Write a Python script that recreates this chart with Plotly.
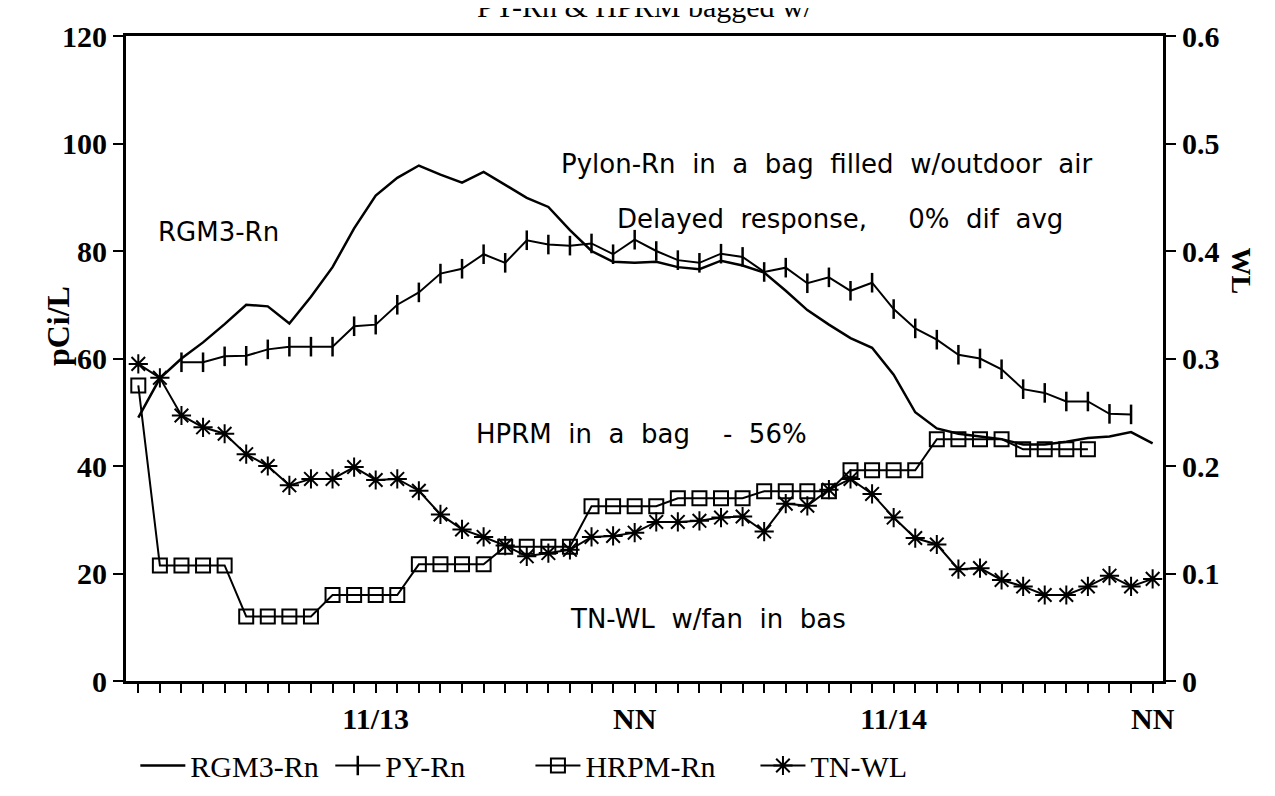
import plotly.graph_objects as go

# hours relative to 11/13 00:00
RGM3_HOURS = list(range(-11, 37))
RGM3_RN = [49, 56.3, 60, 63, 66.4, 70, 69.7, 66.5, 71.5, 77, 84.2,
           90.3, 93.6, 95.9, 94.2, 92.7, 94.7, 92.3, 89.9, 88.2, 83.9, 80,
           78, 77.8, 78, 77, 76.6, 78.2, 77.3, 76, 72.6, 69, 66.3, 63.8, 62, 57,
           50, 47, 46, 45.5, 45, 44, 44, 44.5, 45.2, 45.5, 46.3, 44.2]

PY_HOURS = list(range(-9, 36))
PY_RN = [59.3, 59.3, 60.4, 60.5, 61.7, 62.2, 62.2, 62.2, 66,
         66.3, 70, 72.3, 75.8, 76.7, 79.4, 77.8, 82, 81.2, 81, 81.4,
         79.4, 82.1, 80, 78.3, 77.8, 79.5, 78.9, 76.1, 76.9, 74, 75.1,
         72.6, 74.1, 69.2, 65.6, 63.5, 60.7, 60, 58, 54.3, 53.6, 52, 52,
         49.7, 49.6]

HRPM_HOURS = list(range(-11, 34))
HRPM_RN = [55,
           21.5, 21.5, 21.5, 21.5,
           12, 12, 12, 12,
           16, 16, 16, 16,
           21.7, 21.7, 21.7, 21.7,
           25, 25, 25, 25,
           32.5, 32.5, 32.5, 32.5,
           34, 34, 34, 34,
           35.3, 35.3, 35.3, 35.3,
           39.2, 39.2, 39.2, 39.2,
           45, 45, 45, 45,
           43.1, 43.1, 43.1, 43.1]

# working level, right axis
TN_HOURS = list(range(-11, 37))
TN_WL = [0.295, 0.282, 0.247, 0.236, 0.23, 0.211, 0.2, 0.182, 0.188, 0.188, 0.199,
         0.187, 0.188, 0.177, 0.155, 0.141, 0.134, 0.126, 0.116, 0.119, 0.122,
         0.134, 0.135, 0.138, 0.148, 0.148, 0.149, 0.152, 0.153, 0.139, 0.165,
         0.163, 0.178, 0.188, 0.174, 0.152, 0.133, 0.127, 0.104, 0.105, 0.094,
         0.088, 0.08, 0.08, 0.088, 0.098, 0.088, 0.095]

TICK_HOURS = list(range(-11, 37))
TICK_LABELS = {0: "11/13", 12: "NN", 24: "11/14", 36: "NN"}

SERIF = "Liberation Serif"
SANS = "DejaVu Sans"


def main():
    fig = go.Figure()

    fig.add_trace(go.Scatter(
        x=RGM3_HOURS, y=RGM3_RN, mode="lines", name="RGM3-Rn",
        line=dict(color="black", width=2.5), legend="legend", showlegend=True,
    ))
    fig.add_trace(go.Scatter(
        x=PY_HOURS, y=PY_RN, mode="lines+markers", name="PY-Rn",
        line=dict(color="black", width=2),
        marker=dict(symbol="line-ns", size=14, color="black",
                    line=dict(color="black", width=2.5)),
        legend="legend2",
    ))
    fig.add_trace(go.Scatter(
        x=HRPM_HOURS, y=HRPM_RN, mode="lines+markers", name="HRPM-Rn",
        line=dict(color="black", width=2),
        marker=dict(symbol="square-open", size=14, color="black",
                    line=dict(width=2)),
        legend="legend3",
    ))
    fig.add_trace(go.Scatter(
        x=TN_HOURS, y=TN_WL, mode="lines+markers", name="TN-WL", yaxis="y2",
        line=dict(color="black", width=2),
        marker=dict(symbol="asterisk-open", size=16, color="black",
                    line=dict(width=2)),
        legend="legend4",
    ))

    axis_common = dict(
        showline=True, linewidth=3, linecolor="black",
        ticks="outside", tickwidth=2, tickcolor="black",
        showgrid=False, zeroline=False,
        tickfont=dict(family=SERIF, size=30, color="black", weight="bold"),
    )

    fig.update_layout(
        width=1275, height=796,
        margin=dict(l=118, r=120, t=28, b=112),
        paper_bgcolor="white", plot_bgcolor="white",
        showlegend=True,
        xaxis=dict(
            range=[-11.57, 36.48], tickmode="array", tickvals=TICK_HOURS,
            ticktext=[TICK_LABELS.get(h, "") for h in TICK_HOURS],
            ticklen=9, mirror=True, **axis_common,
        ),
        yaxis=dict(range=[0, 120], dtick=20, ticklen=10, **axis_common),
        yaxis2=dict(range=[0, 0.6], dtick=0.1, ticklen=10, overlaying="y",
                    side="right", **axis_common),
    )

    leg_font = dict(family=SERIF, size=30, color="black")
    for key, xpos in [("legend", 0.009), ("legend2", 0.197),
                      ("legend3", 0.39), ("legend4", 0.607)]:
        fig.update_layout({key: dict(orientation="h", x=xpos, y=-0.131,
                                     xanchor="left", yanchor="middle",
                                     itemwidth=45, font=leg_font,
                                     bgcolor="rgba(0,0,0,0)")})

    notes = [
        (20.9, 96.1, "Pylon-Rn  in  a  bag  filled  w/outdoor  air"),
        (21.5, 85.9, "Delayed  response,     0%  dif  avg"),
        (-7.3, 83.5, "RGM3-Rn"),
        (12.3, 46, "HPRM  in  a  bag    -  56%"),
        (15.4, 11.6, "TN-WL  w/fan  in  bas"),
    ]
    for x, y, txt in notes:
        fig.add_annotation(x=x, y=y, text=txt, showarrow=False,
                           font=dict(family=SANS, size=26, color="black"))

    fig.add_annotation(xref="paper", yref="paper", x=-0.085, y=0.55,
                       text="<b>pCi/L</b>", textangle=-90, showarrow=False,
                       font=dict(family=SERIF, size=32, color="black"))
    fig.add_annotation(xref="paper", yref="paper", x=1.093, y=0.635,
                       text="<b>WL</b>", textangle=90, showarrow=False,
                       font=dict(family=SERIF, size=28, color="black"))
    fig.add_annotation(xref="paper", yref="paper", x=0.5, y=1.046,
                       yanchor="middle", text="PY-Rn & HPRM bagged w/",
                       showarrow=False,
                       font=dict(family=SERIF, size=30, color="black"))

    fig.write_html("out.html")


if __name__ == "__main__":
    main()
